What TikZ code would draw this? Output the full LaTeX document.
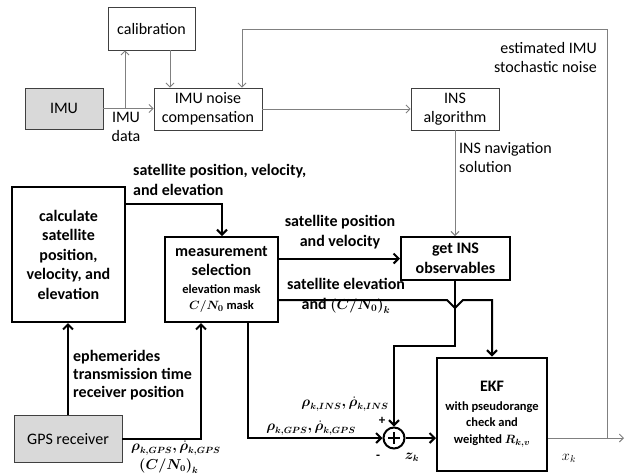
\documentclass[tikz,border=0pt]{standalone}
\usepackage{fontspec}
\setmainfont{Carlito}
\usepackage{amsmath}
\usepackage{bm}
\usetikzlibrary{arrows.meta,calc}
\begin{document}
\begin{tikzpicture}[x=1pt,y=-1pt,
  every node/.style={font=\fontsize{16}{19}\selectfont},
  thinbox/.style={draw=black!75,line width=0.8pt,align=center,inner sep=0pt},
  thickbox/.style={draw=black,line width=2pt,align=center,inner sep=0pt,font=\fontsize{16}{19.5}\selectfont\bfseries},
  garrow/.style={draw=black!50,line width=0.9pt,-{Straight Barb[length=4pt,width=8pt]}},
  gline/.style={draw=black!50,line width=0.9pt},
  barrow/.style={draw=black,line width=2pt,-{Straight Barb[length=5pt,width=10pt,line width=2pt]}},
  lbl/.style={inner sep=0pt,align=left},
  blbl/.style={inner sep=0pt,font=\fontsize{16}{20}\selectfont\bfseries},
  mlbl/.style={inner sep=0pt,font=\fontsize{13.5}{17}\selectfont\bfseries}
]
\useasboundingbox (0,0) rectangle (626,475);

% top part
\node[thinbox,minimum width=87pt,minimum height=43pt] (calib) at (151.5,28.5) {calibration};
\node[thinbox,fill=black!15,minimum width=78pt,minimum height=41pt] (imu) at (64,108.5) {IMU};
\node[thinbox,minimum width=108pt,minimum height=42pt] (comp) at (208,109) {IMU noise\\compensation};
\node[thinbox,minimum width=88pt,minimum height=42pt] (ins) at (455,109) {INS\\algorithm};

% bottom part
\node[thickbox,minimum width=113pt,minimum height=135pt] (calc) at (68.5,254.5) {calculate\\satellite\\position,\\velocity, and\\elevation};
\node[thickbox,minimum width=113pt,minimum height=85pt] (meas) at (221.5,279.5) {measurement\\selection\\[-2pt]{\fontsize{12.5}{15}\selectfont elevation mask}\\[-3pt]{\fontsize{12.5}{15}\selectfont $\bm{C/N_0}$ mask}};
\node[thickbox,minimum width=109pt,minimum height=43pt] (getins) at (455.5,258.5) {get INS\\observables};
\node[thickbox,minimum width=110pt,minimum height=113pt] (ekf) at (492,414) {EKF\\[-1pt]{\fontsize{12.5}{15}\selectfont with pseudorange}\\[-3pt]{\fontsize{12.5}{15}\selectfont check and}\\[-3pt]{\fontsize{12.5}{15}\selectfont weighted $\bm{R_{k,v}}$}};
\node[draw=black!75,line width=0.8pt,fill=black!15,minimum width=108pt,minimum height=47pt,inner sep=0pt] (gps) at (68,439) {GPS receiver};
\node[circle,draw=black,line width=2pt,minimum size=21pt,inner sep=0pt] (sum) at (394,438) {};
\draw[line width=1.6pt] ($(sum)+(-6,0)$) -- ($(sum)+(6,0)$) ($(sum)+(0,-6)$) -- ($(sum)+(0,6)$);

% coordinates
\coordinate (br) at (125,0);
\coordinate (cx) at (170,0);
\coordinate (fbtop) at (607,29);
\coordinate (fbleft) at (242,29);
\coordinate (outend) at (624,0);
\coordinate (c1) at (222,204);
\coordinate (h) at (0,300);
\coordinate (g1) at (0,346);
\coordinate (g2) at (201,0);
\coordinate (m2) at (248,0);

% thin gray connectors
\draw[garrow] (imu.east) -- (imu.east -| comp.west);
\draw[garrow] (imu.east -| br) -- (calib.south -| br);
\draw[garrow] (calib.south -| cx) -- (comp.north -| cx);
\draw[garrow] (comp.east) -- (ins.west);
\draw[garrow] (ins.south) -- (ins.south |- getins.north);
\draw[garrow] (ekf.east |- sum) -- (outend |- sum);
\draw[garrow] (fbtop |- sum) -- (fbtop) -- (fbleft) -- (fbleft |- comp.north);

% thick black connectors
\draw[barrow] (calc.east |- c1) -- (c1) -- (c1 |- meas.north);
\draw[barrow] (meas.east |- getins) -- (getins.west);
\draw[barrow] (meas.east |- h) -- ($(ins.south |- h)+(-8,0)$) -- ($(ins.south |- h)+(0,8)$) -- ($(ins.south |- h)+(8,0)$) -- (ekf.north |- h) -- (ekf.north);
\draw[barrow] (ins.south |- getins.south) -- (ins.south |- g1) -- (sum.north |- g1) -- (sum.north);
\draw[barrow] (gps.north) -- (gps.north |- calc.south);
\draw[barrow] (gps.east) -- (gps.east -| g2) -- (g2 |- meas.south);
\draw[barrow] (m2 |- meas.south) -- (m2 |- sum) -- (sum.west);
\draw[barrow] (sum.east) -- (sum.east -| ekf.west);

% labels (gray part)
\node[lbl,align=center] (lImu) at (126,127) {IMU\\data};
\node[lbl,align=right,anchor=east] (lEst) at (597,57) {estimated IMU\\stochastic noise};
\node[lbl,anchor=west] (lNav) at (459,157.5) {INS navigation\\solution};

% labels (bold part)
\node[blbl,align=left,anchor=west] (lSat1) at (133,179.5) {satellite position, velocity,\\and elevation};
\node[blbl,align=center] (lSat2) at (340,232) {satellite position\\and velocity};
\node[blbl,align=center] (lSat3) at (346,296) {satellite elevation\\and {\fontsize{14}{14}\selectfont$\bm{(C/N_0)_k}$}};
\node[blbl,align=left,anchor=west] (lEph) at (73,375) {ephemerides\\[-2pt]transmission time\\[-2pt]receiver position};
\node[mlbl,anchor=north west] (lGps) at (131,441) {$\bm{\rho_{k,GPS},\dot{\rho}_{k,GPS}}$};
\node[mlbl,anchor=north west] (lCn) at (139,458) {$\bm{(C/N_0)_k}$};
\node[mlbl] (lIns) at (345,404) {$\bm{\rho_{k,INS},\dot{\rho}_{k,INS}}$};
\node[mlbl] (lGps2) at (311,428) {$\bm{\rho_{k,GPS},\dot{\rho}_{k,GPS}}$};
\node[blbl,font=\fontsize{13}{13}\selectfont\bfseries] (lPlus) at (382,421) {+};
\node[blbl,font=\fontsize{13}{13}\selectfont\bfseries] (lMinus) at (378,457) {-};
\node[mlbl] (lZ) at (412,457) {$\bm{z_k}$};
\node[lbl,font=\fontsize{14}{14}\selectfont] (lX) at (569,458) {$x_k$};
\end{tikzpicture}
\end{document}
